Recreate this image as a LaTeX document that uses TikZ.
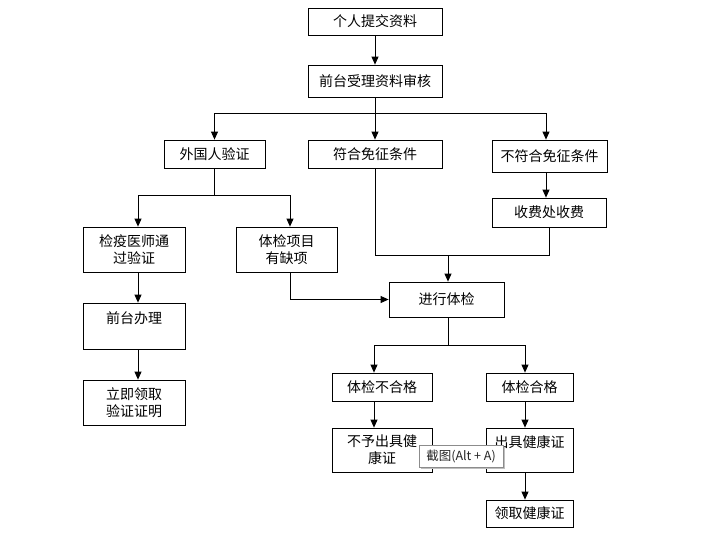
\documentclass[tikz,border=0pt]{standalone}
\usepackage{fontspec}
\usepackage{tikz}
\usetikzlibrary{arrows.meta}
\newfontfamily\cjk{Noto Sans CJK SC}

\begin{document}
\begin{tikzpicture}[x=1pt,y=-1pt,
  box/.style={draw,rectangle,line width=0.8pt,inner sep=0pt,align=center,
    font=\cjk\fontsize{14}{17}\selectfont},
  line/.style={line width=0.8pt},
  arr/.style={line width=0.8pt,-{Triangle[width=7pt,length=8pt]}}]
  \useasboundingbox (0,0) rectangle (701,538);
  % boxes
  \node[box,minimum width=134,minimum height=27] (a1) at (375,21.5) {个人提交资料};
  \node[box,minimum width=134,minimum height=32] (a2) at (375,81) {前台受理资料审核};
  \node[box,minimum width=101,minimum height=28] (b1) at (214.5,154) {外国人验证};
  \node[box,minimum width=134,minimum height=28] (b2) at (375,154) {符合免征条件};
  \node[box,minimum width=115,minimum height=32] (b3) at (549.5,156) {不符合免征条件};
  \node[box,minimum width=114,minimum height=29] (g) at (549,212.5) {收费处收费};
  \node[box,minimum width=102,minimum height=45] (c1) at (134,249.5) {检疫医师通\\过验证};
  \node[box,minimum width=101,minimum height=45] (c2) at (286.5,249.5) {体检项目\\有缺项};
  \node[box,minimum width=102,minimum height=46] (d1) at (134,326) {前台办理\\\mbox{}};
  \node[box,minimum width=102,minimum height=45] (e1) at (134,402.5) {立即领取\\验证证明};
  \node[box,minimum width=115,minimum height=35] (f) at (446.5,299.5) {进行体检};
  \node[box,minimum width=100,minimum height=28] (h1) at (382,387) {体检不合格};
  \node[box,minimum width=87,minimum height=28] (h2) at (529.5,387) {体检合格};
  \node[box,minimum width=100,minimum height=44] (i1) at (382,450) {不予出具健\\康证};
  \node[box,minimum width=87,minimum height=44] (i2) at (529.5,450) {出具健康证\\\mbox{}};
  \node[box,minimum width=87,minimum height=27] (k) at (529.5,513.5) {领取健康证};
  % junctions
  \coordinate (j1) at (375,113);
  \coordinate (j2) at (214.5,195);
  \coordinate (j3) at (448,255);
  \coordinate (j4) at (448,345);
  % connectors
  \draw[arr] (a1) -- (a2);
  \draw[line] (a2) -- (j1);
  \draw[arr] (j1) -| (b1);
  \draw[arr] (j1) -- (b2);
  \draw[arr] (j1) -| ([xshift=-3.5]b3.north);
  \draw[arr] ([xshift=-3.5]b3.south) -- ([xshift=-3]g.north);
  \draw[line] (b1) -- (j2);
  \draw[arr] (j2) -| ([xshift=4]c1.north);
  \draw[arr] (j2) -| ([xshift=3.5]c2.north);
  \draw[arr] ([xshift=4]c1.south) -- ([xshift=4]d1.north);
  \draw[arr] ([xshift=4]d1.south) -- ([xshift=4]e1.north);
  \draw[arr] ([xshift=3.5]c2.south) |- (f.west);
  \draw[line] (b2) |- (j3);
  \draw[line] (g) |- (j3);
  \draw[arr] (j3) -- (j3 |- f.north);
  \draw[line] (j4 |- f.south) -- (j4);
  \draw[arr] (j4) -| ([xshift=-8]h1.north);
  \draw[arr] (j4) -| ([xshift=-4.5]h2.north);
  \draw[arr] ([xshift=-8]h1.south) -- ([xshift=-8]i1.north);
  \draw[arr] ([xshift=-4.5]h2.south) -- ([xshift=-4.5]i2.north);
  \draw[arr] ([xshift=-4.5]i2.south) -- ([xshift=-4.5]k.north);
  % tooltip
  \fill[black!25] (421,447) rectangle (505,469);
  \node[draw=black!45,fill=white,inner sep=0pt,minimum width=84,minimum height=22,
    text=black!85,font=\cjk\fontsize{12.5}{14}\selectfont] (tip) at (461,456) {截图(Alt + A)};
\end{tikzpicture}
\end{document}
